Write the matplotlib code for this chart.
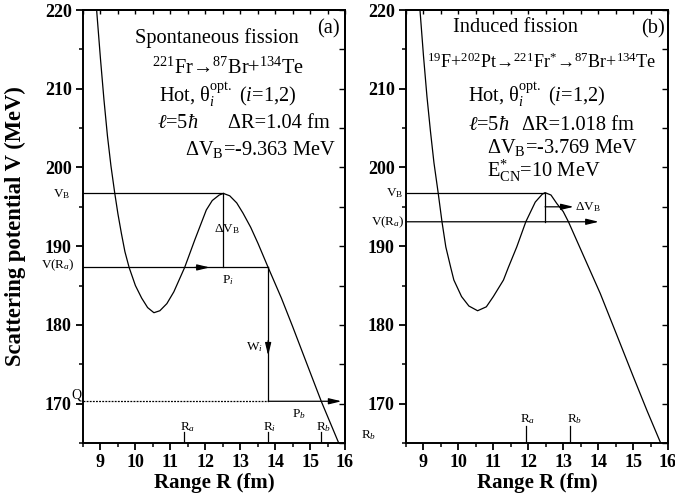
import matplotlib
matplotlib.use('Agg')
import matplotlib.pyplot as plt
from matplotlib.ticker import MultipleLocator

plt.rcParams['font.family'] = ['Liberation Serif', 'DejaVu Serif']
plt.rcParams['mathtext.fontset'] = 'custom'
plt.rcParams['mathtext.rm'] = 'Liberation Serif'
plt.rcParams['mathtext.it'] = 'Liberation Serif:italic'
plt.rcParams['mathtext.bf'] = 'Liberation Serif:bold'

# ---------------- data ----------------
# (a) spontaneous fission potential
R_sf = [8.89, 9.0, 9.1, 9.2, 9.3, 9.41, 9.5, 9.6, 9.7, 9.82, 10.0, 10.18, 10.35,
        10.53, 10.7, 10.9, 11.1, 11.41, 11.7, 12.03, 12.2, 12.4, 12.52, 12.7,
        12.9, 13.08, 13.3, 13.51, 13.8, 14.18, 14.5, 15.0, 15.32, 15.82]
V_sf = [220.0, 213.8, 208.6, 204.0, 200.2, 196.7, 194.1, 191.6, 189.3, 187.3,
        185.0, 183.4, 182.2, 181.55, 181.8, 182.7, 184.2, 187.3, 190.8, 194.6,
        195.8, 196.5, 196.7, 196.4, 195.5, 194.2, 192.4, 190.35, 187.3, 183.4,
        179.8, 174.0, 170.3, 165.0]
# (b) induced fission potential
R_if = [8.9, 9.0, 9.1, 9.2, 9.3, 9.42, 9.53, 9.64, 9.78, 9.87, 10.09, 10.3,
        10.55, 10.8, 11.0, 11.29, 11.43, 11.67, 11.93, 12.2, 12.4, 12.48, 12.65,
        12.82, 13.0, 13.15, 13.4, 13.7, 14.06, 14.5, 15.0, 15.4, 15.79]
V_if = [220.0, 214.2, 209.0, 204.6, 200.6, 196.8, 193.1, 189.9, 187.3, 185.7,
        183.6, 182.4, 181.8, 182.3, 183.6, 185.7, 187.3, 189.9, 193.1, 195.6,
        196.6, 196.8, 196.5, 195.4, 194.4, 193.1, 190.6, 187.6, 184.0, 179.1,
        173.5, 169.1, 165.0]

# key levels / positions (a)
VB_a, VRa_a, Q_a = 196.7, 187.3, 170.3
Rpk_a, Ra_a, Ri_a, Rb_a = 12.52, 11.4, 13.8, 15.32
# key levels / positions (b)
VB_b, VRa_b, dVarrow_b = 196.8, 193.1, 195.0
Rpk_b, Ra_b, Rb_b = 12.48, 11.93, 13.2

x_ticks = [9, 10, 11, 12, 13, 14, 15, 16]
y_ticks = [170, 180, 190, 200, 210, 220]

# ---------------- figure ----------------
fig = plt.figure(figsize=(6.75, 5.01), dpi=100)
axA = fig.add_axes([83/675, 1-443/501, 262/675, 433/501])
axB = fig.add_axes([406/675, 1-443/501, 262/675, 433/501])

def style(ax):
    ax.set_xlim(8.5, 16)
    ax.set_ylim(165, 220)
    ax.set_xticks(x_ticks)
    ax.set_yticks(y_ticks)
    ax.xaxis.set_minor_locator(MultipleLocator(0.5))
    ax.yaxis.set_minor_locator(MultipleLocator(5))
    for s in ax.spines.values():
        s.set_linewidth(1.4)
    ax.tick_params(which='major', direction='out', length=5, width=1.3,
                   labelsize=13, pad=3)
    ax.tick_params(which='minor', direction='out', length=3, width=1.1)
    for lab in ax.get_xticklabels() + ax.get_yticklabels():
        lab.set_fontweight('bold')
    top = ax.secondary_xaxis('top')
    top.set_xticks(x_ticks)
    top.xaxis.set_minor_locator(MultipleLocator(0.5))
    top.tick_params(which='both', direction='in', length=3, width=1.0,
                    labeltop=False)
    right = ax.secondary_yaxis('right')
    right.set_yticks(y_ticks)
    right.yaxis.set_minor_locator(MultipleLocator(5))
    right.tick_params(which='both', direction='in', length=4, width=1.0,
                      labelright=False)
    for s in list(top.spines.values()) + list(right.spines.values()):
        s.set_linewidth(1.4)
    ax.set_xlabel('Range R (fm)', fontsize=15, fontweight='bold', va='center')
    ax.xaxis.set_label_coords(0.5, -0.092)

style(axA)
style(axB)

fig.text(15/675, 1-226.5/501, 'Scattering potential V (MeV)', rotation=90,
         ha='center', va='center', fontsize=16.3, fontweight='bold')

LW = 0.9
AP = dict(arrowstyle='-|>,head_length=0.75,head_width=0.18', color='k',
          lw=LW, mutation_scale=10, shrinkA=0, shrinkB=0)

def arrow(ax, x0, y0, x1, y1):
    ax.annotate('', xy=(x1, y1), xytext=(x0, y0), arrowprops=AP)

# ---------------- panel (a) ----------------
ax = axA
ax.plot(R_sf, V_sf, color='k', lw=LW)
ax.plot([8.5, Rpk_a], [VB_a, VB_a], color='k', lw=LW)
ax.plot([Rpk_a, Rpk_a], [VB_a, VRa_a], color='k', lw=LW)
ax.plot([8.5, Ri_a], [VRa_a, VRa_a], color='k', lw=LW)
arrow(ax, 11.7, VRa_a, 12.13, VRa_a)
ax.plot([Ri_a, Ri_a], [VRa_a, Q_a], color='k', lw=LW)
arrow(ax, Ri_a, 178.0, Ri_a, 176.1)
ax.plot([8.5, Ri_a], [Q_a, Q_a], color='k', lw=LW, ls=(0, (1.5, 1)))
arrow(ax, Ri_a, Q_a, 15.9, Q_a)
for r, top_v in [(Ra_a, 166.4), (Ri_a, 166.4), (Rb_a, 166.4)]:
    ax.plot([r, r], [165, top_v], color='k', lw=LW)

fs_big = 14.7
ax.text(12.33, 215.8, 'Spontaneous fission', ha='center', va='baseline', fontsize=fs_big)
ax.text(12.66, 211.9, r'$^{221}$Fr→$^{87}$Br+$^{134}$Te', ha='center', va='baseline', fontsize=fs_big)
ax.text(10.67, 208.35, r'Hot, $\mathrm{\theta}_{i}^{\mathrm{opt.}}$ ($i$=1,2)', ha='left', va='baseline', fontsize=fs_big)
ax.text(10.61, 204.97, r'$\ell$=5$\hbar$', ha='left', va='baseline', fontsize=fs_big)
ax.text(12.64, 204.97, 'ΔR=1.04 fm', ha='left', va='baseline', fontsize=fs_big)
ax.text(11.41, 201.57, r'ΔV$_{\mathrm{B}}$=-9.363 MeV', ha='left', va='baseline', fontsize=fs_big)
ax.text(15.21, 217.0, '(a)', ha='left', va='baseline', fontsize=fs_big)

fs_s = 9.5
ax.text(8.13, 196.2, r'V$_{\mathrm{B}}$', ha='right', va='baseline', fontsize=fs_s, clip_on=False)
ax.text(8.27, 187.2, r'V(R$_{a}$)', ha='right', va='baseline', fontsize=fs_s, clip_on=False)
ax.text(8.47, 170.7, 'Q', ha='right', va='baseline', fontsize=fs_s + 0.5, clip_on=False)
ax.text(12.61, 191.8, r'ΔV$_{\mathrm{B}}$', ha='center', va='baseline', fontsize=fs_s)
ax.text(12.47, 185.3, r'P$_{i}$', ha='left', va='baseline', fontsize=fs_s)
ax.text(13.64, 176.8, r'W$_{i}$', ha='right', va='baseline', fontsize=fs_s)
ax.text(14.47, 168.3, r'P$_{b}$', ha='left', va='baseline', fontsize=fs_s)
ax.text(11.27, 166.6, r'R$_{a}$', ha='left', va='baseline', fontsize=fs_s)
ax.text(13.65, 166.6, r'R$_{i}$', ha='left', va='baseline', fontsize=fs_s)
ax.text(15.18, 166.6, r'R$_{b}$', ha='left', va='baseline', fontsize=fs_s)
ax.text(16.46, 165.6, r'R$_{b}$', ha='left', va='baseline', fontsize=fs_s, clip_on=False)

# ---------------- panel (b) ----------------
ax = axB
ax.plot(R_if, V_if, color='k', lw=LW)
ax.plot([8.5, Rpk_b], [VB_b, VB_b], color='k', lw=LW)
ax.plot([Rpk_b, Rpk_b], [VB_b, VRa_b], color='k', lw=LW)
arrow(ax, 8.5, VRa_b, 14.02, VRa_b)
arrow(ax, Rpk_b, dVarrow_b, 13.3, dVarrow_b)
for r, top_v in [(Ra_b, 167.1), (Rb_b, 167.2)]:
    ax.plot([r, r], [165, top_v], color='k', lw=LW)

ax.text(11.64, 217.25, 'Induced fission', ha='center', va='baseline', fontsize=fs_big)
ax.text(12.37, 212.6, r'$^{19}$F+$^{202}$Pt→$^{221}$Fr$^{*}$→$^{87}$Br+$^{134}$Te',
        ha='center', va='baseline', fontsize=13.1)
ax.text(10.27, 208.35, r'Hot, $\mathrm{\theta}_{i}^{\mathrm{opt.}}$ ($i$=1,2)', ha='left', va='baseline', fontsize=fs_big)
ax.text(10.27, 204.75, r'$\ell$=5$\hbar$', ha='left', va='baseline', fontsize=fs_big)
ax.text(11.83, 204.75, 'ΔR=1.018 fm', ha='left', va='baseline', fontsize=fs_big)
ax.text(10.81, 201.8, r'ΔV$_{\mathrm{B}}$=-3.769 MeV', ha='left', va='baseline', fontsize=fs_big)
ax.text(10.81, 198.8, r'E$^{*}_{\mathrm{CN}}$=10 MeV', ha='left', va='baseline', fontsize=fs_big)
ax.text(15.24, 217.0, '(b)', ha='left', va='baseline', fontsize=fs_big)

ax.text(8.41, 196.3, r'V$_{\mathrm{B}}$', ha='right', va='baseline', fontsize=fs_s, clip_on=False)
ax.text(8.47, 192.7, r'V(R$_{a}$)', ha='right', va='baseline', fontsize=fs_s, clip_on=False)
ax.text(13.33, 194.6, r'ΔV$_{\mathrm{B}}$', ha='left', va='baseline', fontsize=fs_s)
ax.text(11.76, 167.7, r'R$_{a}$', ha='left', va='baseline', fontsize=fs_s)
ax.text(13.1, 167.7, r'R$_{b}$', ha='left', va='baseline', fontsize=fs_s)

fig.savefig('out.png', dpi=100)
